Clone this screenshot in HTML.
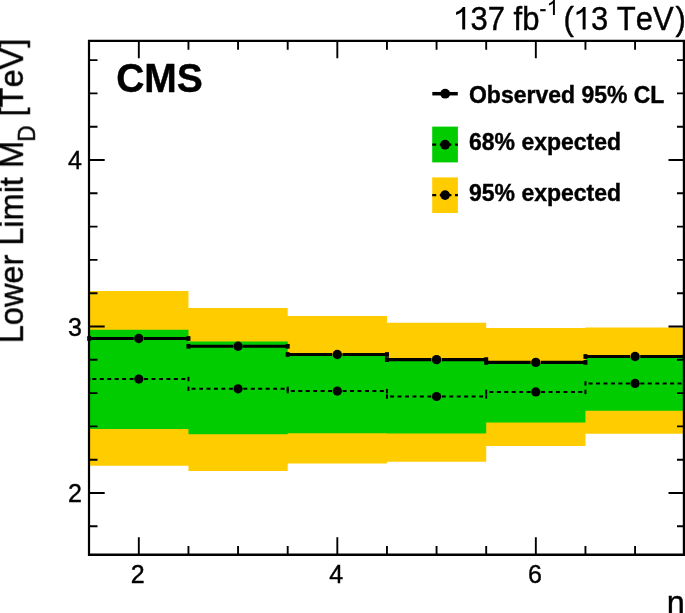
<!DOCTYPE html>
<html><head><meta charset="utf-8"><style>
html,body{margin:0;padding:0;background:#fff;}
body{width:685px;height:613px;overflow:hidden;}
svg{display:block;}
text{font-family:"Liberation Sans",sans-serif;fill:#000;font-kerning:none;font-feature-settings:"kern" 0;stroke:#000;stroke-width:0.4px;}
.txt{filter:grayscale(1);}
.lab{font-size:25px;}
.tit{font-size:32.5px;}
.cms{font-size:39px;font-weight:bold;}
.lumi{font-size:31px;}
.leg{font-size:23px;font-weight:bold;}
</style></head><body>
<svg width="685" height="613" viewBox="0 0 685 613">
<rect width="685" height="613" fill="#fff"/>
<path d="M89.00 290.90L188.45 290.90L188.45 308.00L287.70 308.00L287.70 316.10L386.95 316.10L386.95 322.80L486.20 322.80L486.20 328.00L585.45 328.00L585.45 327.60L684.00 327.60L684.00 433.80L585.45 433.80L585.45 446.00L486.20 446.00L486.20 461.70L386.95 461.70L386.95 463.60L287.70 463.60L287.70 471.10L188.45 471.10L188.45 465.70L89.00 465.70Z" fill="#ffcc00"/>
<path d="M89.00 329.70L188.45 329.70L188.45 341.50L287.70 341.50L287.70 355.50L386.95 355.50L386.95 360.50L486.20 360.50L486.20 363.50L585.45 363.50L585.45 358.00L684.00 358.00L684.00 410.80L585.45 410.80L585.45 422.40L486.20 422.40L486.20 433.50L386.95 433.50L386.95 433.30L287.70 433.30L287.70 434.30L188.45 434.30L188.45 428.90L89.00 428.90Z" fill="#00cc00"/>
<path d="M144.07 379.10H188.45M133.57 379.10H89.20" stroke="#000" stroke-width="2.0" stroke-dasharray="4 3.45" fill="none"/>
<rect x="88.20" y="376.90" width="2.0" height="4.4" fill="#000"/>
<rect x="187.45" y="376.90" width="2.0" height="4.4" fill="#000"/>
<circle cx="138.82" cy="379.10" r="4.6" fill="#000"/>
<path d="M243.32 388.80H287.70M232.82 388.80H188.45" stroke="#000" stroke-width="2.0" stroke-dasharray="4 3.45" fill="none"/>
<rect x="187.45" y="386.60" width="2.0" height="4.4" fill="#000"/>
<rect x="286.70" y="386.60" width="2.0" height="4.4" fill="#000"/>
<circle cx="238.07" cy="388.80" r="4.6" fill="#000"/>
<path d="M342.57 391.10H386.95M332.07 391.10H287.70" stroke="#000" stroke-width="2.0" stroke-dasharray="4 3.45" fill="none"/>
<rect x="286.70" y="388.90" width="2.0" height="4.4" fill="#000"/>
<rect x="385.95" y="388.90" width="2.0" height="4.4" fill="#000"/>
<circle cx="337.32" cy="391.10" r="4.6" fill="#000"/>
<path d="M441.82 396.50H486.20M431.32 396.50H386.95" stroke="#000" stroke-width="2.0" stroke-dasharray="4 3.45" fill="none"/>
<rect x="385.95" y="394.30" width="2.0" height="4.4" fill="#000"/>
<rect x="485.20" y="394.30" width="2.0" height="4.4" fill="#000"/>
<circle cx="436.57" cy="396.50" r="4.6" fill="#000"/>
<path d="M541.08 391.90H585.45M530.58 391.90H486.20" stroke="#000" stroke-width="2.0" stroke-dasharray="4 3.45" fill="none"/>
<rect x="485.20" y="389.70" width="2.0" height="4.4" fill="#000"/>
<rect x="584.45" y="389.70" width="2.0" height="4.4" fill="#000"/>
<circle cx="535.83" cy="391.90" r="4.6" fill="#000"/>
<path d="M640.33 383.40H684.70M629.83 383.40H585.45" stroke="#000" stroke-width="2.0" stroke-dasharray="4 3.45" fill="none"/>
<rect x="584.45" y="381.20" width="2.0" height="4.4" fill="#000"/>
<rect x="683.70" y="381.20" width="2.0" height="4.4" fill="#000"/>
<circle cx="635.08" cy="383.40" r="4.6" fill="#000"/>
<path d="M89.20 338.50H133.72M143.92 338.50H188.45" stroke="#000" stroke-width="3.1" fill="none"/>
<rect x="87.20" y="336.15" width="4" height="4.7" fill="#000"/>
<rect x="186.45" y="336.15" width="4" height="4.7" fill="#000"/>
<circle cx="138.82" cy="338.50" r="4.7" fill="#000"/>
<path d="M188.45 346.30H232.97M243.17 346.30H287.70" stroke="#000" stroke-width="3.1" fill="none"/>
<rect x="186.45" y="343.95" width="4" height="4.7" fill="#000"/>
<rect x="285.70" y="343.95" width="4" height="4.7" fill="#000"/>
<circle cx="238.07" cy="346.30" r="4.7" fill="#000"/>
<path d="M287.70 354.50H332.22M342.43 354.50H386.95" stroke="#000" stroke-width="3.1" fill="none"/>
<rect x="285.70" y="352.15" width="4" height="4.7" fill="#000"/>
<rect x="384.95" y="352.15" width="4" height="4.7" fill="#000"/>
<circle cx="337.32" cy="354.50" r="4.7" fill="#000"/>
<path d="M386.95 359.60H431.47M441.68 359.60H486.20" stroke="#000" stroke-width="3.1" fill="none"/>
<rect x="384.95" y="357.25" width="4" height="4.7" fill="#000"/>
<rect x="484.20" y="357.25" width="4" height="4.7" fill="#000"/>
<circle cx="436.57" cy="359.60" r="4.7" fill="#000"/>
<path d="M486.20 362.40H530.73M540.93 362.40H585.45" stroke="#000" stroke-width="3.1" fill="none"/>
<rect x="484.20" y="360.05" width="4" height="4.7" fill="#000"/>
<rect x="583.45" y="360.05" width="4" height="4.7" fill="#000"/>
<circle cx="535.83" cy="362.40" r="4.7" fill="#000"/>
<path d="M585.45 356.50H629.98M640.18 356.50H684.70" stroke="#000" stroke-width="3.1" fill="none"/>
<rect x="583.45" y="354.15" width="4" height="4.7" fill="#000"/>
<rect x="682.70" y="354.15" width="4" height="4.7" fill="#000"/>
<circle cx="635.08" cy="356.50" r="4.7" fill="#000"/>
<path d="M87.9 39.7H685.1V556H87.9ZM90.1 42V553.4H682.8V42Z" fill="#000" fill-rule="evenodd"/>
<path d="M138.82 554V537.30M138.82 41V58.20M188.45 554V546.00M188.45 41V49.80M238.07 554V546.00M238.07 41V49.80M287.70 554V546.00M287.70 41V49.80M337.32 554V537.30M337.32 41V58.20M386.95 554V546.00M386.95 41V49.80M436.57 554V546.00M436.57 41V49.80M486.20 554V546.00M486.20 41V49.80M535.83 554V537.30M535.83 41V58.20M585.45 554V546.00M585.45 41V49.80M635.08 554V546.00M635.08 41V49.80M89 526.30H97.50M684 526.30H677.00M89 493.00H104.70M684 493.00H668.50M89 459.70H97.50M684 459.70H677.00M89 426.40H97.50M684 426.40H677.00M89 393.10H97.50M684 393.10H677.00M89 359.80H97.50M684 359.80H677.00M89 326.50H104.70M684 326.50H668.50M89 293.20H97.50M684 293.20H677.00M89 259.90H97.50M684 259.90H677.00M89 226.60H97.50M684 226.60H677.00M89 193.30H97.50M684 193.30H677.00M89 160.00H104.70M684 160.00H668.50M89 126.70H97.50M684 126.70H677.00M89 93.40H97.50M684 93.40H677.00M89 60.10H97.50M684 60.10H677.00" stroke="#000" stroke-width="1.9" fill="none"/>
<g class="txt">
<text transform="translate(82.00,502.30) scale(1,1.044)" class="lab" text-anchor="end">2</text>
<text transform="translate(82.00,335.80) scale(1,1.044)" class="lab" text-anchor="end">3</text>
<text transform="translate(82.00,169.30) scale(1,1.044)" class="lab" text-anchor="end">4</text>
<text transform="translate(137.82,582.50) scale(1,1.044)" class="lab" text-anchor="middle">2</text>
<text transform="translate(336.32,582.50) scale(1,1.044)" class="lab" text-anchor="middle">4</text>
<text transform="translate(534.83,582.50) scale(1,1.044)" class="lab" text-anchor="middle">6</text>
<text transform="translate(684.80,613.80) scale(1,1.044)" class="tit" text-anchor="end">n</text>
<text transform="translate(23.2,343.2) rotate(-90) scale(1,1.044)" class="tit"><tspan x="0" y="0">Lower Limit M</tspan><tspan x="201.6" y="10.8" font-size="22.5">D</tspan><tspan x="217.8" y="0"> [TeV]</tspan></text>
<text transform="translate(116.2,92.2) scale(1,1.044)" class="cms">CMS</text>
<text transform="translate(0,29.5) scale(1,1.044)" class="lumi"><tspan x="453.3" y="0">&#x2007;37 fb</tspan><tspan x="539.6" y="-13.22" font-size="20.3">-</tspan><tspan x="563.4" y="0">(&#x2007;3 TeV</tspan><tspan x="675.6" y="0">)</tspan></text>
<path d="M785 0L785 1430L630 1430C575 1320 420 1185 185 1100L185 915C345 965 495 1050 590 1135L590 0Z" transform="translate(453.30,29.50) scale(0.01514,-0.01580)"/>
<path d="M785 0L785 1430L630 1430C575 1320 420 1185 185 1100L185 915C345 965 495 1050 590 1135L590 0Z" transform="translate(573.72,29.50) scale(0.01514,-0.01580)"/>
<path d="M785 0L785 1430L630 1430C575 1320 420 1185 185 1100L185 915C345 965 495 1050 590 1135L590 0Z" transform="translate(547.10,14.90) scale(0.00991,-0.01035)"/>
<text transform="translate(469.00,102.70) scale(1,1.025)" class="leg">Observed 95% CL</text>
<text transform="translate(469.00,150.40) scale(1,1.02)" class="leg">68% expected</text>
<text transform="translate(469.00,201.20) scale(1,1.02)" class="leg">95% expected</text>
</g>
<line x1="432.3" y1="93.7" x2="457.8" y2="93.7" stroke="#000" stroke-width="3.5"/>
<circle cx="445.2" cy="93.7" r="4.9" fill="#000"/>
<rect x="432.2" y="126.6" width="25.7" height="35.8" fill="#00cc00"/>
<rect x="432.2" y="177.4" width="25.7" height="35.6" fill="#ffcc00"/>
<line x1="432.2" y1="144.7" x2="457.9" y2="144.7" stroke="#000" stroke-width="2.2" stroke-dasharray="4 3.6"/>
<circle cx="445.1" cy="144.7" r="4.85" fill="#000"/>
<line x1="432.2" y1="195.1" x2="457.9" y2="195.1" stroke="#000" stroke-width="2.2" stroke-dasharray="4 3.6"/>
<circle cx="445.1" cy="195.1" r="4.85" fill="#000"/>
</svg>
</body></html>
